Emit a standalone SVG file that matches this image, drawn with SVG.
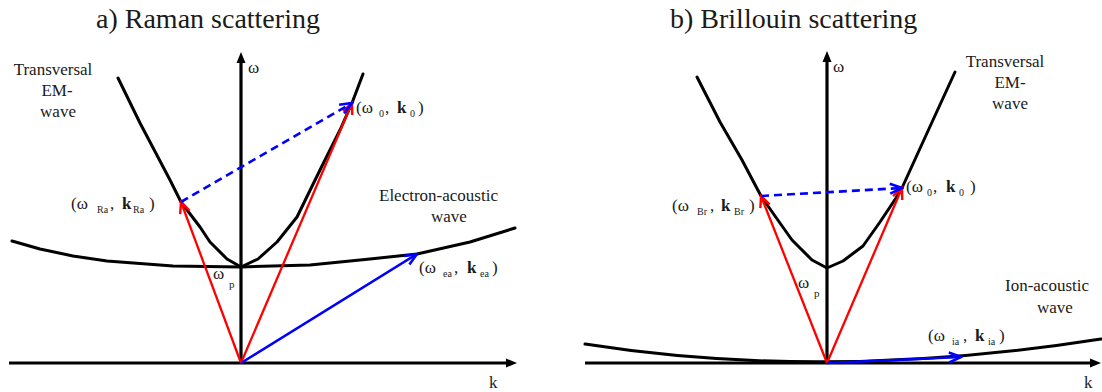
<svg xmlns="http://www.w3.org/2000/svg" width="1102" height="392" viewBox="0 0 1102 392">
<style>
text{font-family:"Liberation Serif","Times New Roman",serif;font-size:17px;fill:#1a1a1a}
.title{font-size:28px}
.sub{font-size:10px}
.b{font-weight:bold}
.mid{text-anchor:middle}
.curve{fill:none;stroke:#000;stroke-width:3;stroke-linejoin:round;stroke-linecap:round}
.axis{fill:none;stroke:#000;stroke-width:3.2}
.red{stroke:#ff0000;stroke-width:2.3;fill:none}
.blue{stroke:#0000ff;stroke-width:2.6;fill:none}
.dash{stroke-dasharray:8 5}
</style>
<defs>
<marker id="ax" markerUnits="userSpaceOnUse" viewBox="-4 -6 13 12" markerWidth="13" markerHeight="12" refX="0" refY="0" orient="auto"><path d="M-3,-4.5 L8,0 L-3,4.5 Z" fill="#000"/></marker>
<marker id="rh" markerUnits="userSpaceOnUse" viewBox="-14 -8 16 16" markerWidth="16" markerHeight="16" refX="0" refY="0" orient="auto"><path d="M-11,-5 L0,0 L-11,5" fill="none" stroke="#ff0000" stroke-width="2.4" stroke-linejoin="miter"/></marker>
<marker id="bh" markerUnits="userSpaceOnUse" viewBox="-14 -8 16 16" markerWidth="16" markerHeight="16" refX="0" refY="0" orient="auto"><path d="M-12,-5 L0,0 L-12,5" fill="none" stroke="#0000ff" stroke-width="2.6" stroke-linejoin="miter"/></marker>
</defs>

<!-- Panel a -->
<g id="panel-a">
<text class="title" x="96" y="28">a) Raman scattering</text>
<g id="a-axes">
<line class="axis" x1="241" y1="363" x2="241" y2="60" marker-end="url(#ax)"/>
<line class="axis" x1="9" y1="363" x2="509" y2="363" marker-end="url(#ax)"/>
<text x="248" y="73">ω</text>
<text x="489" y="388">k</text>
</g>
<g id="a-em-wave">
<polyline class="curve" points="118,78 140,123 170,180 181,202 200,227 210,242 227,259 241,267 258,259 277,242 297,217 320,170 340,130 352,103 363,74"/>
<text class="mid" x="53" y="75">Transversal</text>
<text class="mid" x="57" y="96">EM-</text>
<text class="mid" x="58" y="117">wave</text>
</g>
<g id="a-ea-wave">
<polyline class="curve" points="12,241 40,249 73,256 107,261 173,266 241,267 310,265 370,259 417,254 470,242 515,228"/>
<text x="379" y="201">Electron-acoustic</text>
<text x="431" y="222">wave</text>
</g>
<g id="a-wp"><text x="213" y="279">ω</text><text class="sub" style="font-size:11px" x="229" y="288">p</text></g>
<g id="a-label-ra"><text y="209"><tspan x="71">(ω</tspan><tspan class="sub" x="97" dy="4">Ra</tspan><tspan x="110" dy="-4">,</tspan><tspan class="b" x="122">k</tspan><tspan class="sub" x="133" dy="4">Ra</tspan><tspan x="149" dy="-4">)</tspan></text></g>
<g id="a-label-0"><text y="113"><tspan x="356">(ω</tspan><tspan class="sub" x="379" dy="4">0</tspan><tspan x="385" dy="-4">,</tspan><tspan class="b" x="397">k</tspan><tspan class="sub" x="410" dy="4">0</tspan><tspan x="418" dy="-4">)</tspan></text></g>
<g id="a-label-ea"><text y="273"><tspan x="419">(ω</tspan><tspan class="sub" x="443" dy="4">ea</tspan><tspan x="454" dy="-4">,</tspan><tspan class="b" x="467">k</tspan><tspan class="sub" x="480" dy="4">ea</tspan><tspan x="492" dy="-4">)</tspan></text></g>
</g>

<!-- Panel b -->
<g id="panel-b">
<text class="title" x="670" y="28">b) Brillouin scattering</text>
<g id="b-axes">
<line class="axis" x1="827" y1="363" x2="827" y2="59" marker-end="url(#ax)"/>
<line class="axis" x1="585" y1="363" x2="1093" y2="363" marker-end="url(#ax)"/>
<text x="833" y="72">ω</text>
<text x="1084" y="388">k</text>
</g>
<g id="b-em-wave">
<polyline class="curve" points="697,77 720,122 742,160 761,196 775,216 792,240 812,260 827,268 843,261 863,246 880,222 896,198 902,188 917,155 933,120 955,72"/>
<text class="mid" x="1005" y="67">Transversal</text>
<text class="mid" x="1010" y="88">EM-</text>
<text class="mid" x="1010" y="109">wave</text>
</g>
<g id="b-ia-wave">
<path class="curve" d="M585,344 Q827,382 1101,339"/>
<text x="1005" y="291">Ion-acoustic</text>
<text x="1037" y="313">wave</text>
</g>
<g id="b-wp"><text x="798" y="288">ω</text><text class="sub" style="font-size:11px" x="814" y="297">p</text></g>
<g id="b-label-br"><text y="211"><tspan x="672">(ω</tspan><tspan class="sub" x="697" dy="4">Br</tspan><tspan x="710" dy="-4">,</tspan><tspan class="b" x="721">k</tspan><tspan class="sub" x="734" dy="4">Br</tspan><tspan x="749" dy="-4">)</tspan></text></g>
<g id="b-label-0"><text y="192"><tspan x="906">(ω</tspan><tspan class="sub" x="927" dy="4">0</tspan><tspan x="933" dy="-4">,</tspan><tspan class="b" x="946">k</tspan><tspan class="sub" x="959" dy="4">0</tspan><tspan x="970" dy="-4">)</tspan></text></g>
<g id="b-label-ia"><text y="341"><tspan x="928">(ω</tspan><tspan class="sub" x="952" dy="4">ia</tspan><tspan x="963" dy="-4">,</tspan><tspan class="b" x="975">k</tspan><tspan class="sub" x="988" dy="4">ia</tspan><tspan x="999" dy="-4">)</tspan></text></g>
</g>

<!-- Connectors -->
<g id="connectors">
<line class="red" x1="241" y1="363" x2="181" y2="202" marker-end="url(#rh)"/>
<line class="red" x1="241" y1="363" x2="352" y2="103" marker-end="url(#rh)"/>
<line class="blue dash" x1="181" y1="202" x2="352" y2="103" marker-end="url(#bh)"/>
<line class="blue" x1="241" y1="363" x2="417" y2="254" marker-end="url(#bh)"/>
<line class="red" x1="827" y1="363" x2="761" y2="196" marker-end="url(#rh)"/>
<line class="red" x1="827" y1="363" x2="902" y2="188" marker-end="url(#rh)"/>
<line class="blue dash" x1="761" y1="196" x2="902" y2="188" marker-end="url(#bh)"/>
<line class="blue" x1="827" y1="363" x2="961" y2="357" marker-end="url(#bh)"/>
</g>
</svg>
